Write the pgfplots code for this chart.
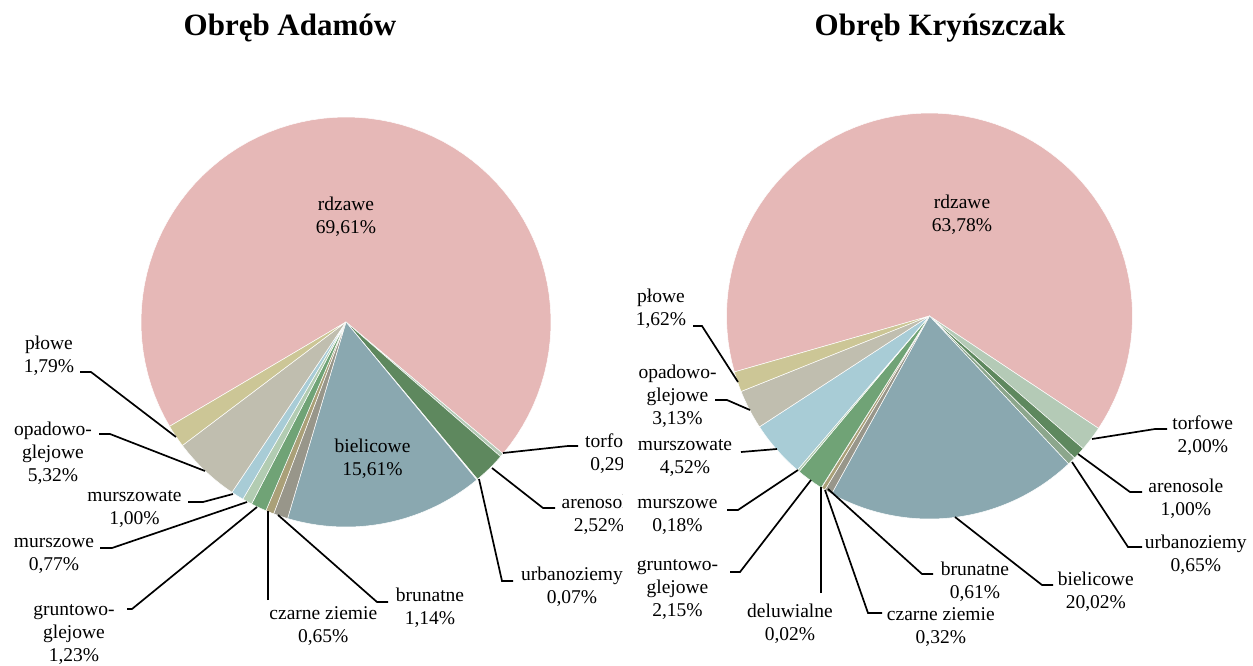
\documentclass[border=0pt]{standalone}
\usepackage{fontspec}
\setmainfont{Liberation Serif}
\usepackage{pgfplots}
\pgfplotsset{compat=1.18}

\definecolor{rdz}{HTML}{E6B8B7}
\definecolor{tor}{HTML}{B4CAB6}
\definecolor{are}{HTML}{5E885E}
\definecolor{urb}{HTML}{8CA68C}
\definecolor{bie}{HTML}{8AA8B0}
\definecolor{bru}{HTML}{98968A}
\definecolor{cza}{HTML}{AAA078}
\definecolor{del}{HTML}{A09682}
\definecolor{gru}{HTML}{70A376}
\definecolor{mur}{HTML}{B2CCB2}
\definecolor{mwt}{HTML}{A8CCD6}
\definecolor{opa}{HTML}{C0BEAF}
\definecolor{plo}{HTML}{CCC696}

% pie slice from the value (percent), clockwise from the running angle
\newcommand\pieslice[2]{%
  \pgfmathsetmacro\angB{\curang}%
  \pgfmathsetmacro\angA{\curang-3.6*#2}%
  \edef\next{\noexpand\addplot[fill=#1, draw=white, line width=0.5pt, line join=round,
     domain=\angA:\angB, samples=80] ({\pcx+\pR*cos(x)},{\pcy-\pR*sin(x)}) -- (\pcx,\pcy) -- cycle;}%
  \next
  \xdef\curang{\angA}%
}
\newcommand\lab{\fontsize{19.5}{23}\selectfont}
\newcommand\ttl{\fontsize{31}{35}\selectfont\bfseries}

\pgfplotsset{
  pieax/.style={hide axis, scale only axis, height=666pt, ymin=0, ymax=666,
    y dir=reverse, clip=true, anchor=south west},
  lead/.style={black, line width=1.7pt, line join=miter},
}

\begin{document}
\begin{tikzpicture}
\useasboundingbox (0,0) rectangle (1253pt,666pt);

% ---------------- Obręb Adamów ----------------
\begin{axis}[pieax, at={(0pt,0pt)}, width=622pt, xmin=0, xmax=622]
\def\pcx{346}\def\pcy{322}\def\pR{205}
\xdef\curang{210.6}
\pieslice{rdz}{69.61}
\pieslice{tor}{0.29}
\pieslice{are}{2.52}
\pieslice{urb}{0.07}
\pieslice{bie}{15.61}
\pieslice{bru}{1.14}
\pieslice{cza}{0.65}
\pieslice{gru}{1.23}
\pieslice{mur}{0.77}
\pieslice{mwt}{1.00}
\pieslice{opa}{5.32}
\pieslice{plo}{1.79}

\addplot[lead] coordinates {(80,372) (91,372) (176,437)};
\addplot[lead] coordinates {(99,434) (110,434) (205,471)};
\addplot[lead] coordinates {(188,502) (203,502) (233,494)};
\addplot[lead] coordinates {(100,548) (112,548) (247,502)};
\addplot[lead] coordinates {(127,609) (132,609) (257,507)};
\addplot[lead] coordinates {(268.3,600) (268.3,511)};
\addplot[lead] coordinates {(388,602) (377,602) (278,515)};
\addplot[lead] coordinates {(513,581) (502,581) (479,479)};
\addplot[lead] coordinates {(492,468) (543,508) (555,508)};
\addplot[lead] coordinates {(503,453) (568,446) (578,446)};

\node[font=\ttl, anchor=base] at (axis cs:290,36) {Obręb Adamów};
\node[font=\lab, align=center] at (axis cs:346,216.5) {rdzawe\\69,61\%};
\node[font=\lab, align=center] at (axis cs:372.5,459) {bielicowe\\15,61\%};
\node[font=\lab, align=center] at (axis cs:49,356) {płowe\\1,79\%};
\node[font=\lab, align=center] at (axis cs:53,453) {opadowo-\\glejowe\\5,32\%};
\node[font=\lab, align=center] at (axis cs:134.5,509) {murszowate\\1,00\%};
\node[font=\lab, align=center] at (axis cs:54,555.5) {murszowe\\0,77\%};
\node[font=\lab, align=center] at (axis cs:74,634.5) {gruntowo-\\glejowe\\1,23\%};
\node[font=\lab, align=center] at (axis cs:323.3,626.3) {czarne ziemie\\0,65\%};
\node[font=\lab, align=center] at (axis cs:430,608) {brunatne\\1,14\%};
\node[font=\lab, align=center] at (axis cs:572,586.7) {urbanoziemy\\0,07\%};
\node[font=\lab, align=center] at (axis cs:599,514.7) {arenosole\\2,52\%};
\node[font=\lab, align=center] at (axis cs:615.5,453.3) {torfowe\\0,29\%};
\end{axis}

% ---------------- Obręb Kryńszczak ----------------
\begin{axis}[pieax, at={(622pt,0pt)}, width=631pt, xmin=622, xmax=1253]
\def\pcx{929.5}\def\pcy{316}\def\pR{203}
\xdef\curang{196.0}
\pieslice{rdz}{63.78}
\pieslice{tor}{2.00}
\pieslice{are}{1.00}
\pieslice{urb}{0.65}
\pieslice{bie}{20.02}
\pieslice{bru}{0.61}
\pieslice{cza}{0.32}
\pieslice{del}{0.02}
\pieslice{gru}{2.15}
\pieslice{mur}{0.18}
\pieslice{mwt}{4.52}
\pieslice{opa}{3.13}
\pieslice{plo}{1.62}

\addplot[lead] coordinates {(693,326) (702,326) (738,382)};
\addplot[lead] coordinates {(715,400) (727,400) (750,410)};
\addplot[lead] coordinates {(741,452) (777,449)};
\addplot[lead] coordinates {(727,510) (738,510) (798,470)};
\addplot[lead] coordinates {(730,572) (740,572) (811,480)};
\addplot[lead] coordinates {(821,593) (821,487)};
\addplot[lead] coordinates {(882,613) (868,613) (825,490)};
\addplot[lead] coordinates {(933,574) (922,574) (828,489)};
\addplot[lead] coordinates {(1053,585) (1042,585) (955,517)};
\addplot[lead] coordinates {(1142,547) (1128,547) (1072,462)};
\addplot[lead] coordinates {(1142,492) (1130,492) (1078,454)};
\addplot[lead] coordinates {(1092,439) (1155,429) (1167,429)};

\node[font=\ttl, anchor=base] at (axis cs:940,36) {Obręb Kryńszczak};
\node[font=\lab, align=center] at (axis cs:962,215) {rdzawe\\63,78\%};
\node[font=\lab, align=center] at (axis cs:661,309) {płowe\\1,62\%};
\node[font=\lab, align=center] at (axis cs:677.5,396) {opadowo-\\glejowe\\3,13\%};
\node[font=\lab, align=center] at (axis cs:685,458.3) {murszowate\\4,52\%};
\node[font=\lab, align=center] at (axis cs:677.5,517) {murszowe\\0,18\%};
\node[font=\lab, align=center] at (axis cs:677.5,590) {gruntowo-\\glejowe\\2,15\%};
\node[font=\lab, align=center] at (axis cs:790,624) {deluwialne\\0,02\%};
\node[font=\lab, align=center] at (axis cs:940.8,626.7) {czarne ziemie\\0,32\%};
\node[font=\lab, align=center] at (axis cs:975,581.7) {brunatne\\0,61\%};
\node[font=\lab, align=center] at (axis cs:1095.8,592) {bielicowe\\20,02\%};
\node[font=\lab, align=center] at (axis cs:1195.8,555) {urbanoziemy\\0,65\%};
\node[font=\lab, align=center] at (axis cs:1185.8,498.3) {arenosole\\1,00\%};
\node[font=\lab, align=center] at (axis cs:1202.8,435.8) {torfowe\\2,00\%};
\end{axis}
\end{tikzpicture}
\end{document}
